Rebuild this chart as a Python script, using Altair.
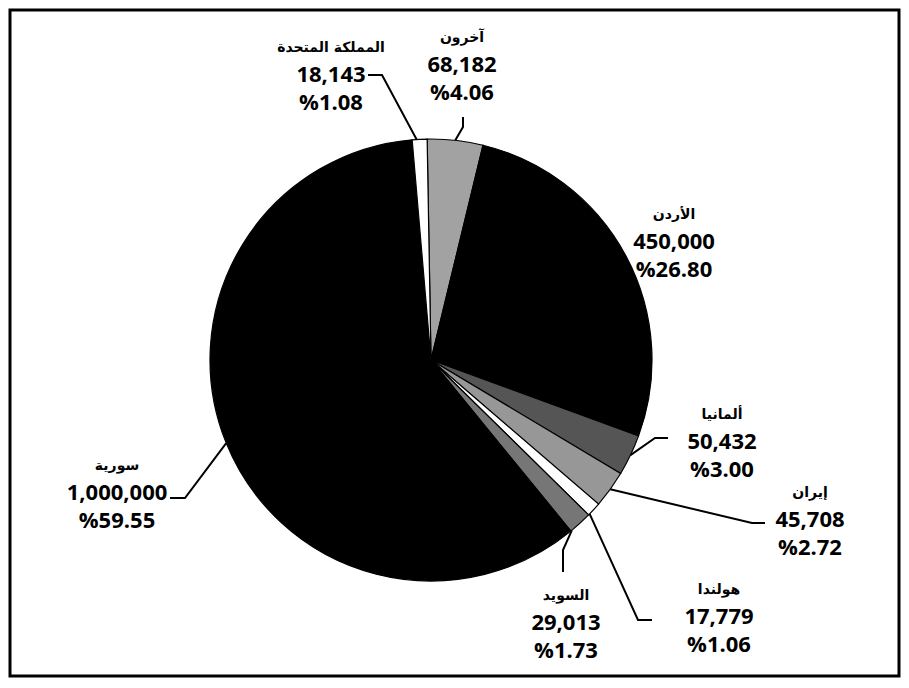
import math
import altair as alt
import pandas as pd

# ---- data (clockwise from 12 o'clock) ----
countries = ["آخرون", "الأردن", "ألمانيا", "إيران", "هولندا", "السويد", "سورية", "المملكة المتحدة"]
values = [68182, 450000, 50432, 45708, 17779, 29013, 1000000, 18143]
percents = ["%4.06", "%26.80", "%3.00", "%2.72", "%1.06", "%1.73", "%59.55", "%1.08"]

# ---- styles ----
fills = ["#a2a2a2", "#000000", "#555555", "#979797", "#ffffff", "#767676", "#000000", "#ffffff"]

# ---- layout (page pixel coordinates) ----
center = (431, 360)
R = 221
start_deg = -1.0
label_x = [462, 674, 722, 810, 719, 566, 117, 331]
label_y = [65, 242, 442, 520, 617, 623, 493, 75]
anchor_frac = [0.5, None, 0.5, 0.5, 0.9, 0.95, 0.5, 0.3]
elbows = [
    [(463, 127), (463, 117)],
    None,
    [(655, 438), (668, 438)],
    [(752, 523), (765, 523)],
    [(638, 620), (652, 620)],
    [(563, 550), (563, 572)],
    [(185, 498), (170, 498)],
    [(382, 75), (368, 75)],
]

total = sum(values)
a0 = math.radians(start_deg)

df_pie = pd.DataFrame({"country": countries, "value": values, "ord": list(range(len(values)))})

lab = pd.DataFrame({
    "name": countries,
    "num": [f"{v:,}" for v in values],
    "pct": percents,
    "lx": label_x,
    "ly": label_y,
})

rows = []
cum = 0
for i, v in enumerate(values):
    if elbows[i] is not None:
        frac = anchor_frac[i]
        ang = a0 + 2 * math.pi * (cum + v * frac) / total
        px = center[0] + R * math.sin(ang)
        py = center[1] - R * math.cos(ang)
        pts = [(px, py)] + elbows[i]
        for j, (x, y) in enumerate(pts):
            rows.append({"key": countries[i], "idx": j, "x": x, "y": y})
    cum += v
lead = pd.DataFrame(rows)

xs = alt.Scale(domain=[10, 899], nice=False, zero=False)
ys = alt.Scale(domain=[10, 676], nice=False, zero=False, reverse=True)

pie = alt.Chart(df_pie).mark_arc(radius=R, stroke="black", strokeWidth=1.2).encode(
    theta=alt.Theta("value:Q", stack=True, scale=alt.Scale(range=[a0, a0 + 2 * math.pi])),
    order=alt.Order("ord:Q"),
    color=alt.Color("country:N", scale=alt.Scale(domain=countries, range=fills), legend=None),
    x=alt.XDatum(center[0], type="quantitative", scale=xs, axis=None),
    y=alt.YDatum(center[1], type="quantitative", scale=ys, axis=None),
)

leaders = alt.Chart(lead).mark_line(color="black", strokeWidth=2).encode(
    x=alt.X("x:Q", scale=xs, axis=None),
    y=alt.Y("y:Q", scale=ys, axis=None),
    detail="key:N",
    order="idx:Q",
)

base = alt.Chart(lab).encode(
    x=alt.X("lx:Q", scale=xs, axis=None),
    y=alt.Y("ly:Q", scale=ys, axis=None),
)
names = base.mark_text(font="DejaVu Sans", fontWeight="bold", fontSize=14, dy=-27,
                       baseline="middle", align="center", color="black").encode(text="name:N")
nums = base.mark_text(font="Open Sans", fontWeight="bold", fontSize=22,
                      baseline="middle", align="center", color="black").encode(text="num:N")
pcts = base.mark_text(font="Open Sans", fontWeight="bold", fontSize=22, dy=28,
                      baseline="middle", align="center", color="black").encode(text="pct:N")

chart = alt.layer(pie, leaders, names, nums, pcts).properties(
    width=893, height=670, padding=2,
    autosize=alt.AutoSizeParams(type="fit", contains="padding"),
).configure_view(stroke="black", strokeWidth=3)

chart.save("out.html", embed_options={"renderer": "svg", "actions": False})
